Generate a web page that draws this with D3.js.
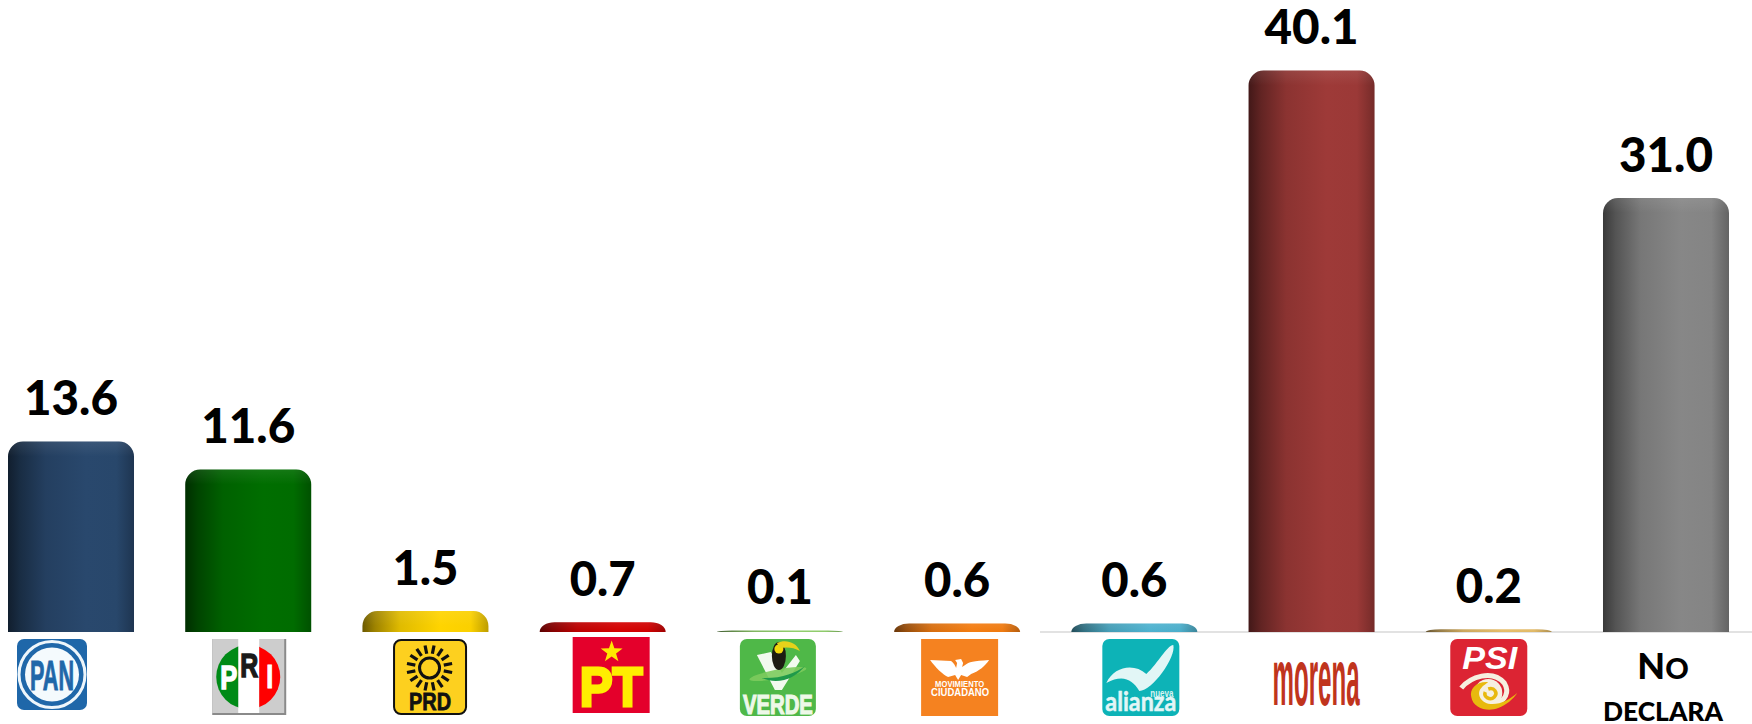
<!DOCTYPE html>
<html>
<head>
<meta charset="utf-8">
<script src="https://cdn.jsdelivr.net/npm/d3@7"></script>
<style>
  html, body { margin: 0; background: #fff; }
  svg { display: block; }
  text { font-family: Lato, "Liberation Sans", sans-serif; }
  .logo text { font-family: "Liberation Sans", sans-serif; font-weight: bold; }
</style>
</head>
<body>
<svg id="chart" width="1752" height="724"></svg>
<script>
var categories = ['PAN', 'PRI', 'PRD', 'PT', 'VERDE', 'MC', 'NA', 'MORENA', 'PSI', 'ND'];
var values = [13.6, 11.6, 1.5, 0.7, 0.1, 0.6, 0.6, 40.1, 0.2, 31.0];
var barColors = ['#29486d', '#006e00', '#ffd400', '#d40000', '#8fce6a', '#f47c10', '#4db2cf', '#9e3a38', '#e6bc66', '#878787'];

var svg = d3.select('#chart');
var defs = svg.append('defs');

var x = d3.scaleBand().domain(categories).range([8, 1729]).paddingInner(0.289).paddingOuter(0);
var y = d3.scaleLinear().domain([0, 40.1]).range([632, 70.6]);

function barPath(d, i) {
    var x0 = x(categories[i]), x1 = x0 + x.bandwidth();
    var y0 = y(d), y1 = y(0);
    var rx = 15, ry = Math.min(15, y1 - y0);
    return 'M ' + x0 + ' ' + y1 + ' V ' + (y0 + ry) +
        ' A ' + rx + ' ' + ry + ' 0 0 1 ' + (x0 + rx) + ' ' + y0 +
        ' H ' + (x1 - rx) +
        ' A ' + rx + ' ' + ry + ' 0 0 1 ' + x1 + ' ' + (y0 + ry) +
        ' V ' + y1 + ' Z';
}

// side shading, one gradient per bar colour
barColors.forEach(function (c, i) {
    var g = defs.append('linearGradient').attr('id', 'side' + i);
    var base = d3.rgb(c);
    [[0, 0.42], [0.1, 0.62], [0.3, 0.88], [0.62, 1], [0.86, 0.98], [1, 0.74]].forEach(function (s) {
        g.append('stop').attr('offset', s[0])
            .attr('stop-color', d3.rgb(base.r * s[1], base.g * s[1], base.b * s[1]));
    });
});

// top bevel
var bevel = defs.append('linearGradient').attr('id', 'bevel').attr('x1', 0).attr('x2', 0).attr('y1', 0).attr('y2', 1);
bevel.append('stop').attr('offset', 0).attr('stop-color', '#fff').attr('stop-opacity', 0.08);
bevel.append('stop').attr('offset', 1).attr('stop-color', '#fff').attr('stop-opacity', 0);

// baseline only shows from the alianza bar on
svg.append('line')
    .attr('x1', 1040).attr('x2', 1752)
    .attr('y1', y(0)).attr('y2', y(0))
    .attr('stroke', '#d9d9d9').attr('stroke-width', 1.5);

svg.selectAll('.bar').data(values).enter().append('path')
    .attr('class', 'bar')
    .attr('d', barPath)
    .attr('fill', function (d, i) { return 'url(#side' + i + ')'; });

svg.selectAll('.bevel').data(values).enter().append('clipPath')
    .attr('id', function (d, i) { return 'clip' + i; })
    .append('path').attr('d', barPath);

svg.selectAll('.top').data(values).enter().append('rect')
    .attr('class', 'top')
    .attr('x', function (d, i) { return x(categories[i]); })
    .attr('y', function (d) { return y(d); })
    .attr('width', x.bandwidth())
    .attr('height', function (d) { return Math.min(15, y(0) - y(d)); })
    .attr('fill', 'url(#bevel)')
    .attr('clip-path', function (d, i) { return 'url(#clip' + i + ')'; });

svg.selectAll('.value').data(values).enter().append('text')
    .attr('class', 'value')
    .attr('x', function (d, i) { return x(categories[i]) + x.bandwidth() / 2; })
    .attr('y', function (d) { return y(d) - 26.5; })
    .attr('text-anchor', 'middle')
    .attr('font-size', 48)
    .attr('font-weight', 900)
    .attr('textLength', function (d) { return d.toFixed(1).length > 3 ? 94 : 66; })
    .attr('lengthAdjust', 'spacingAndGlyphs')
    .attr('fill', '#000')
    .text(function (d) { return d.toFixed(1); });

// ---- party logos, each drawn in its own local box ----
function logo(cat, dx, top) {
    return svg.append('g').attr('class', 'logo')
        .attr('transform', 'translate(' + (x(cat) + dx) + ',' + top + ')');
}
function box(g, w, h, r, fill) {
    return g.append('rect').attr('width', w).attr('height', h).attr('rx', r).attr('fill', fill);
}
function label(g, str, px, py, size, len, fill) {
    return g.append('text').attr('x', px).attr('y', py)
        .attr('font-size', size).attr('textLength', len)
        .attr('lengthAdjust', 'spacingAndGlyphs')
        .attr('fill', fill).text(str);
}
function heavy(t, fill, w) {
    return t.attr('stroke', fill).attr('stroke-width', w);
}

var pan = logo('PAN', 9, 639);
box(pan, 70, 71, 7, '#1f67a9');
pan.append('circle').attr('cx', 35).attr('cy', 35.5).attr('r', 33).attr('fill', 'none').attr('stroke', '#eef6fb').attr('stroke-width', 3);
pan.append('circle').attr('cx', 35).attr('cy', 35.5).attr('r', 27).attr('fill', '#f4fafd');
heavy(label(pan, 'PAN', 13, 51, 43, 44, '#1f67a9'), '#1f67a9', 1);

var pri = logo('PRI', 27, 639);
box(pri, 74, 76, 0, '#8a8a8a');
box(pri, 72, 74, 0, '#cdcdcd');
pri.append('rect').attr('x', 26).attr('width', 21).attr('height', 74).attr('fill', '#fff');
var priClipL = defs.append('clipPath').attr('id', 'priL');
priClipL.append('rect').attr('x', 0).attr('y', 0).attr('width', 26).attr('height', 76);
var priClipR = defs.append('clipPath').attr('id', 'priR');
priClipR.append('rect').attr('x', 47).attr('y', 0).attr('width', 27).attr('height', 76);
pri.append('circle').attr('cx', 36).attr('cy', 38).attr('r', 32).attr('fill', '#008a16').attr('clip-path', 'url(#priL)');
pri.append('circle').attr('cx', 36).attr('cy', 38).attr('r', 32).attr('fill', '#ff0000').attr('clip-path', 'url(#priR)');
heavy(label(pri, 'P', 8, 50, 33, 17, '#fff'), '#fff', 1.5);
heavy(label(pri, 'R', 28, 38, 33, 18, '#1a1a1a'), '#1a1a1a', 1.5);
heavy(label(pri, 'I', 54, 49, 33, 7, '#fff'), '#fff', 1);

var prd = logo('PRD', 30.6, 639);
prd.append('rect').attr('x', 1).attr('y', 1).attr('width', 72).attr('height', 74).attr('rx', 7)
    .attr('fill', '#fdd01f').attr('stroke', '#111').attr('stroke-width', 2);
prd.append('circle').attr('cx', 36.5).attr('cy', 29).attr('r', 10).attr('fill', 'none').attr('stroke', '#111').attr('stroke-width', 3);
d3.range(16).forEach(function (k) {
    var a = (k + 0.5) * Math.PI / 8;
    prd.append('line')
        .attr('x1', 36.5 + 14.5 * Math.cos(a)).attr('y1', 29 + 14.5 * Math.sin(a))
        .attr('x2', 36.5 + 23 * Math.cos(a)).attr('y2', 29 + 23 * Math.sin(a))
        .attr('stroke', '#111').attr('stroke-width', 3.2);
});
heavy(label(prd, 'PRD', 16, 71, 24, 42, '#111'), '#111', 0.8);

var pt = logo('PT', 33, 637);
box(pt, 77, 76, 0, '#e4002b');
pt.append('path')
    .attr('d', d3.range(10).map(function (k) {
        var a = -Math.PI / 2 + k * Math.PI / 5, r = k % 2 ? 4.6 : 11.5;
        return (k ? 'L' : 'M') + (39 + r * Math.cos(a)) + ' ' + (15 + r * Math.sin(a));
    }).join(' ') + ' Z')
    .attr('fill', '#ffe600');
heavy(label(pt, 'PT', 7, 69, 55, 63, '#ffee00'), '#ffee00', 3);

var verde = logo('VERDE', 23, 639);
box(verde, 76, 77, 7, '#4fb848');
verde.append('path')
    .attr('d', 'M17 16 L31 13 L42 34 L56 16 L60 22 L42 51 L35 51 Z').attr('fill', '#f2faee');
verde.append('ellipse').attr('cx', 38).attr('cy', 35).attr('rx', 29).attr('ry', 4.5)
    .attr('transform', 'rotate(-11 38 35)').attr('fill', '#7ccb5d').attr('opacity', 0.9);
verde.append('path')
    .attr('d', 'M22 39 C40 40 56 34 65 27 C55 40 38 46 22 39 Z').attr('fill', '#1f9a4a');
verde.append('ellipse').attr('cx', 39).attr('cy', 17).attr('rx', 7).attr('ry', 14).attr('fill', '#1d1d12');
verde.append('circle').attr('cx', 39).attr('cy', 10).attr('r', 4.5).attr('fill', '#f2d90a');
verde.append('path')
    .attr('d', 'M37 4 C46 0 56 3 60 12 C54 8 46 8 40 9 Z').attr('fill', '#e6d21a');
heavy(label(verde, 'VERDE', 3, 75, 28, 70, '#eef8e8'), '#eef8e8', 1.2);

var mc = logo('MC', 27, 639);
box(mc, 77, 77, 0, '#f58220');
mc.append('path')
    .attr('d', 'M9 21 L30 22 C33 24 34 27 35 29 L36 24 L34 21 L40 20 L42 24 L41 28 L44 26 C48 23 52 22 68 21 C64 27 58 32 50 35 L46 38 L40 36 L37 41 L34 36 L27 38 C22 36 14 28 9 21 Z')
    .attr('fill', '#fff');
label(mc, 'MOVIMIENTO', 14, 48, 9, 49, '#fff');
label(mc, 'CIUDADANO', 10, 57, 11.5, 58, '#fff');

var na = logo('NA', 31, 639);
box(na, 77, 77, 7, '#0db3b7');
na.append('path')
    .attr('d', 'M4 44 C12 27 32 24 44 35 C56 24 64 7 71 6 C74 18 50 52 37 52 C30 40 20 35 4 44 Z')
    .attr('fill', '#e2f6f6');
label(na, 'nueva', 48, 58, 11, 23, '#d8f3f2');
heavy(label(na, 'alianza', 3, 72, 27, 71, '#e2f6f6').style('font-family', 'Lato'), '#e2f6f6', 0.5);

// morena is a tall narrow wordmark, so stretch it instead of squeezing a big font
var mor = logo('MORENA', 24, 662);
mor.append('text').attr('transform', 'translate(0,43) scale(1,2.85)')
    .attr('font-size', 28).attr('textLength', 87).attr('lengthAdjust', 'spacingAndGlyphs')
    .attr('fill', '#c0341d').text('morena');

var psi = logo('PSI', 24.5, 639);
box(psi, 77, 77, 7, '#dc2433');
label(psi, 'PSI', 12, 30, 32, 55, '#fff').attr('font-style', 'italic');
psi.append('circle').attr('cx', 38).attr('cy', 54).attr('r', 14).attr('fill', '#f6f0e0');
psi.append('path')
    .attr('d', 'M11 49 C20 38 42 30 54 44 C60 54 54 62 46 64')
    .attr('fill', 'none').attr('stroke', '#f6f0e0').attr('stroke-width', 5);
psi.append('path')
    .attr('d', 'M38 43 C26 42 19 50 21 58 C23 70 38 73 48 69 C56 66 63 60 67 54 C60 60 50 66 40 65 C30 64 26 54 31 49 C33 46 36 45 38 43 Z')
    .attr('fill', '#e8b90e');
psi.append('path')
    .attr('d', 'M38 50 C44 48 48 54 44 58 C40 62 33 58 35 53')
    .attr('fill', 'none').attr('stroke', '#e8b90e').attr('stroke-width', 3.5);

// "No DECLARA" has no logo, just text
var nd = svg.append('g').attr('text-anchor', 'middle').attr('font-weight', 900).attr('fill', '#000');
var no = nd.append('text').attr('x', x('ND') + x.bandwidth() / 2 - 3).attr('y', 679).attr('font-size', 36);
no.append('tspan').text('N');
no.append('tspan').attr('font-size', 29).text('O');
nd.append('text').attr('x', x('ND') + x.bandwidth() / 2 - 3).attr('y', 721).attr('font-size', 26)
    .attr('textLength', 120).attr('lengthAdjust', 'spacingAndGlyphs').text('DECLARA');
</script>
</body>
</html>
